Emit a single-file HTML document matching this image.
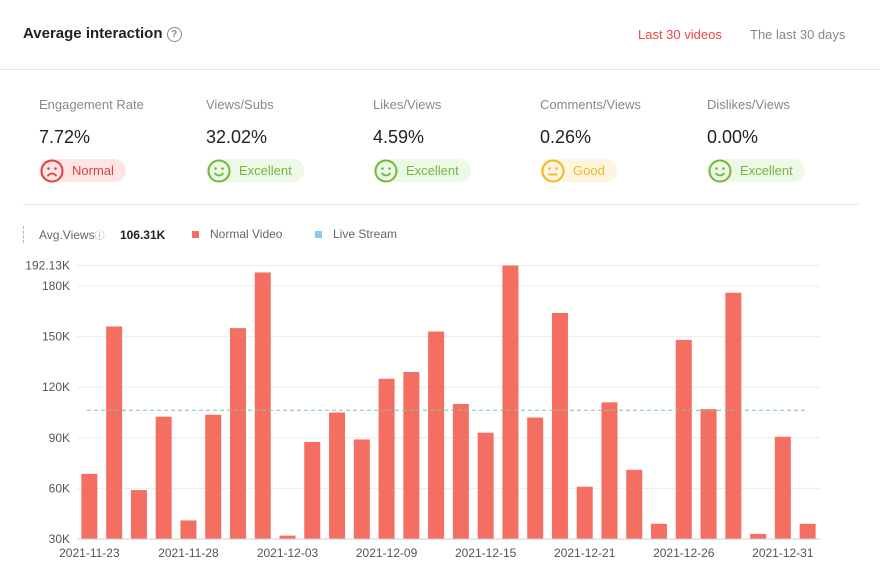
<!DOCTYPE html>
<html><head><meta charset="utf-8"><style>
body{margin:0;width:880px;height:586px;background:#fff;font-family:"Liberation Sans",sans-serif;position:relative;overflow:hidden;color:#333}
.abs{position:absolute}
.title{left:23px;top:25px;font-size:15px;font-weight:bold;color:#222}
.tab{top:27px;font-size:13px}
.metric{position:absolute;top:97px}
.metric .l{font-size:13px;color:#888}
.metric .v{font-size:18px;color:#222;margin-top:15px}
.badge{margin-top:11px;height:23px;border-radius:12px;display:inline-flex;align-items:center;padding-right:12px;font-size:13px}
.badge svg{margin:0 8px 0 1px}
</style></head><body>
<div class="abs title">Average interaction <span style="display:inline-block;width:13px;height:13px;border:1.5px solid #888;border-radius:50%;font-size:10px;text-align:center;line-height:13px;color:#888;vertical-align:1px">?</span></div>
<div class="abs tab" style="left:638px;color:#e8483f">Last 30 videos</div>
<div class="abs tab" style="left:750px;color:#888">The last 30 days</div>
<div class="abs" style="left:0;top:69px;width:880px;height:1px;background:#e5e5e5"></div>

<div class="metric" style="left:39px"><div class="l">Engagement Rate</div><div class="v">7.72%</div>
<div class="badge" style="background:#fde5e6;color:#e2403f"><svg width="24" height="24"><circle cx="12" cy="12" r="10.5" fill="none" stroke="#e2403f" stroke-width="2"/><circle cx="8.5" cy="9.5" r="1.3" fill="#e2403f"/><circle cx="15.5" cy="9.5" r="1.3" fill="#e2403f"/><path d="M7.5 17 Q12 12 16.5 17" fill="none" stroke="#e2403f" stroke-width="1.8"/></svg>Normal</div></div>
<div class="metric" style="left:206px"><div class="l">Views/Subs</div><div class="v">32.02%</div>
<div class="badge" style="background:#eef8e6;color:#72b83f"><svg width="24" height="24"><circle cx="12" cy="12" r="10.5" fill="none" stroke="#72b83f" stroke-width="2"/><circle cx="8.5" cy="9.5" r="1.3" fill="#72b83f"/><circle cx="15.5" cy="9.5" r="1.3" fill="#72b83f"/><path d="M7.5 14 Q12 19 16.5 14" fill="none" stroke="#72b83f" stroke-width="1.8"/></svg>Excellent</div></div>
<div class="metric" style="left:373px"><div class="l">Likes/Views</div><div class="v">4.59%</div>
<div class="badge" style="background:#eef8e6;color:#72b83f"><svg width="24" height="24"><circle cx="12" cy="12" r="10.5" fill="none" stroke="#72b83f" stroke-width="2"/><circle cx="8.5" cy="9.5" r="1.3" fill="#72b83f"/><circle cx="15.5" cy="9.5" r="1.3" fill="#72b83f"/><path d="M7.5 14 Q12 19 16.5 14" fill="none" stroke="#72b83f" stroke-width="1.8"/></svg>Excellent</div></div>
<div class="metric" style="left:540px"><div class="l">Comments/Views</div><div class="v">0.26%</div>
<div class="badge" style="background:#fdf5df;color:#f2b824"><svg width="24" height="24"><circle cx="12" cy="12" r="10.5" fill="none" stroke="#f2b824" stroke-width="2"/><circle cx="8.5" cy="9.5" r="1.3" fill="#f2b824"/><circle cx="15.5" cy="9.5" r="1.3" fill="#f2b824"/><path d="M7.5 15.5 H16.5" stroke="#f2b824" stroke-width="1.8"/></svg>Good</div></div>
<div class="metric" style="left:707px"><div class="l">Dislikes/Views</div><div class="v">0.00%</div>
<div class="badge" style="background:#eef8e6;color:#72b83f"><svg width="24" height="24"><circle cx="12" cy="12" r="10.5" fill="none" stroke="#72b83f" stroke-width="2"/><circle cx="8.5" cy="9.5" r="1.3" fill="#72b83f"/><circle cx="15.5" cy="9.5" r="1.3" fill="#72b83f"/><path d="M7.5 14 Q12 19 16.5 14" fill="none" stroke="#72b83f" stroke-width="1.8"/></svg>Excellent</div></div>
<div class="abs" style="left:23px;top:204px;width:836px;height:1px;background:#e5e5e5"></div>

<div class="abs" style="left:23px;top:226px;height:17px;border-left:1px dashed #8ccbb6"></div>
<div class="abs" style="left:39px;top:227px;font-size:12px;color:#666">Avg.Views<span style="font-size:10px;color:#999">ⓘ</span> <b style="color:#222;margin-left:12px">106.31K</b></div>
<div class="abs" style="left:192px;top:231px;width:7px;height:7px;background:#f46e62"></div>
<div class="abs" style="left:210px;top:227px;font-size:12px;color:#666">Normal Video</div>
<div class="abs" style="left:315px;top:231px;width:7px;height:7px;background:#86cbea"></div>
<div class="abs" style="left:333px;top:227px;font-size:12px;color:#666">Live Stream</div>

<svg class="abs" style="left:0;top:0" width="880" height="586" id="chart"></svg>
<script>
const categories=["2021-11-23","2021-11-24","2021-11-25","2021-11-26","2021-11-28","2021-11-29","2021-11-30","2021-12-01","2021-12-03","2021-12-04","2021-12-06","2021-12-07","2021-12-09","2021-12-10","2021-12-11","2021-12-13","2021-12-15","2021-12-16","2021-12-17","2021-12-19","2021-12-21","2021-12-22","2021-12-23","2021-12-24","2021-12-26","2021-12-27","2021-12-28","2021-12-29","2021-12-31","2022-01-01"];
const views=[68.6,156,59,102.5,41,103.7,155,188,32,87.5,105,89,125,129,153,110,93,192.13,102,164,61,111,71,39,148,107,176,33,90.6,39];
const yTicks=[30,60,90,120,150,180];
const yMaxLabel="192.13K";
const avgViews=106.31;
const svg=document.getElementById('chart');const NS='http://www.w3.org/2000/svg';
const yMin=30,yMax=192.13,y0=539,y1=265.5;
const y=v=>y0-(v-yMin)/(yMax-yMin)*(y0-y1);
const xL=77,xR=820,step=(xR-xL)/categories.length;
const xc=i=>xL+step*(i+0.5);
function mk(t,a){const e=document.createElementNS(NS,t);for(const k in a)e.setAttribute(k,a[k]);svg.appendChild(e);return e;}
yTicks.concat([yMax]).forEach(t=>{
 const g=mk('line',{x1:xL,x2:xR,y1:y(t),y2:y(t),stroke:'#ececec'});
 
 
 const tx=mk('text',{x:70,y:y(t)+4,'text-anchor':'end','font-size':12,fill:'#555','font-family':'Liberation Sans'});
 tx.textContent=t===yMax?yMaxLabel:t+'K';
 
 
});
views.forEach((v,i)=>{
 const r=mk('rect',{x:xc(i)-8,y:y(v),width:16,height:y0-y(v),fill:'#f46e62'});
 
 
 if(i%4===0){const tx=mk('text',{x:xc(i),y:557,'text-anchor':'middle','font-size':12,fill:'#555','font-family':'Liberation Sans'});
 tx.textContent=categories[i];
 
 }
});
const ax=mk('line',{x1:xL,x2:xR,y1:y0,y2:y0,stroke:'#ccc'});


const al=mk('line',{x1:87,x2:808,y1:y(avgViews),y2:y(avgViews),stroke:'#7cc4ab','stroke-dasharray':'4,3'});


</script>
</body></html>
